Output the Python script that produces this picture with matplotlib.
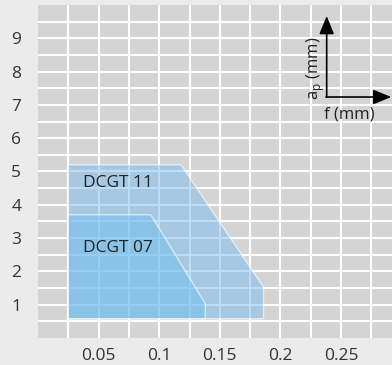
import matplotlib
matplotlib.use("Agg")
import matplotlib.pyplot as plt
from matplotlib.patches import Polygon

plt.rcParams['font.family'] = ['Open Sans', 'DejaVu Sans']
plt.rcParams['mathtext.fontset'] = 'custom'
plt.rcParams['mathtext.rm'] = 'Open Sans'

# Application ranges: feed f (mm) vs depth of cut ap (mm)
dcgt11_f = [0.025, 0.025, 0.118, 0.186, 0.186]
dcgt11_ap = [0.58, 5.2, 5.2, 1.53, 0.58]
dcgt07_f = [0.025, 0.025, 0.093, 0.138, 0.138]
dcgt07_ap = [0.58, 3.7, 3.7, 1.03, 0.58]

series_names = ["DCGT 11", "DCGT 07"]
label_pos = [(0.037, 4.65), (0.037, 2.7)]

x_ticks = [0.05, 0.1, 0.15, 0.2, 0.25]
x_tick_labels = ["0.05", "0.1", "0.15", "0.2", "0.25"]
y_ticks = [1, 2, 3, 4, 5, 6, 7, 8, 9]

fig = plt.figure(figsize=(3.92, 3.65), dpi=100, facecolor='#ebebeb')
ax = fig.add_axes([38 / 392, 27 / 365, 354 / 392, 333 / 365])
ax.set_facecolor('#d4d4d4')

ax.set_xlim(0, 0.292)
ax.set_ylim(0, 10)

# white grid every 0.025 mm / 0.5 mm
minor_x = [i * 0.025 for i in range(1, 12)]
minor_y = [i * 0.5 for i in range(1, 20)]
for xv in minor_x:
    ax.axvline(xv, color='white', lw=1.5, zorder=1)
for yv in minor_y:
    ax.axhline(yv, color='white', lw=1.5, zorder=1)

ax.add_patch(Polygon(list(zip(dcgt11_f, dcgt11_ap)), closed=True,
                     facecolor=(0.49, 0.74, 0.94, 0.5),
                     edgecolor=(1, 1, 1, 0.6), lw=1.0, zorder=2))
ax.add_patch(Polygon(list(zip(dcgt07_f, dcgt07_ap)), closed=True,
                     facecolor=(0.40, 0.74, 0.93, 0.45),
                     edgecolor=(1, 1, 1, 0.6), lw=1.0, zorder=3))

for name, (lx, ly) in zip(series_names, label_pos):
    ax.text(lx, ly, name, fontsize=12.5, color='#222222', ha='left',
            va='center', zorder=5)

ax.set_xticks(x_ticks)
ax.set_xticklabels(x_tick_labels)
ax.set_yticks(y_ticks)
ax.tick_params(length=0, labelsize=12.5, labelcolor='#333333')
ax.tick_params(axis='y', pad=12)
ax.tick_params(axis='x', pad=7)
for s in ax.spines.values():
    s.set_visible(False)

# axis legend icon
ox, oy = 0.8155, 0.7237
arrow = dict(arrowstyle='-|>,head_length=1.1,head_width=0.45', color='black',
             lw=1.2, shrinkA=0, shrinkB=0)
ax.annotate('', xy=(ox, 0.967), xytext=(ox, oy), xycoords='axes fraction',
            arrowprops=arrow, annotation_clip=False, zorder=6)
ax.annotate('', xy=(0.998, oy), xytext=(ox - 0.002, oy), xycoords='axes fraction',
            arrowprops=arrow, annotation_clip=False, zorder=6)
ax.text(0.784, 0.81, r'a$_\mathrm{p}$ (mm)', rotation=90, transform=ax.transAxes,
        ha='center', va='center', fontsize=12, color='#222222', zorder=6)
ax.text(0.879, 0.672, 'f (mm)', transform=ax.transAxes, ha='center',
        va='center', fontsize=12, color='#222222', zorder=6)

fig.savefig('out.png', dpi=100, facecolor=fig.get_facecolor())
